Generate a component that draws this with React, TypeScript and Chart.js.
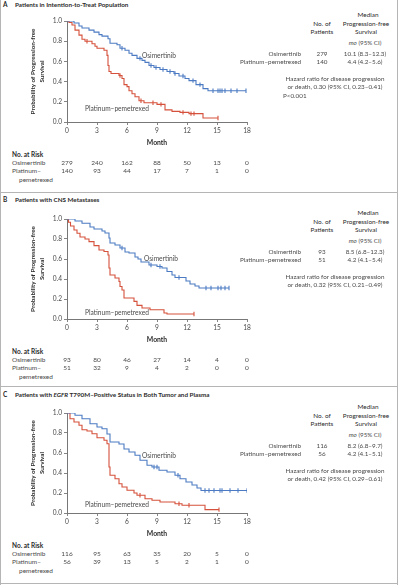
import React, { useEffect, useRef } from "react";
import { Chart, registerables } from "chart.js";
Chart.register(...registerables);

const FONT = "Lato, 'Open Sans', 'DejaVu Sans', sans-serif";
const BLUE = "#4c7bc3";
const RED = "#d6513b";
const TEXT = "#4a4a4a";
const DARK = "#2a2a2a";
const AXIS = "#777777";

const monthTicks = [0, 3, 6, 9, 12, 15, 18];

// ---------- Panel A: intention-to-treat ----------
const aOsiTime = [0, 0.7, 1.2, 1.5, 2.2, 2.7, 3.2, 3.5, 4.1, 4.3, 5.0, 5.3, 5.8, 6.2, 6.5, 7.0, 7.5, 7.8, 8.2, 8.7, 9.3, 10.0, 10.7, 11.2, 11.8, 12.2, 12.9, 13.6, 14.1, 17.9];
const aOsiSurv = [1, 0.98, 0.95, 0.93, 0.91, 0.89, 0.865, 0.85, 0.825, 0.78, 0.765, 0.73, 0.71, 0.68, 0.66, 0.63, 0.61, 0.59, 0.56, 0.54, 0.52, 0.5, 0.48, 0.455, 0.43, 0.41, 0.37, 0.33, 0.31, 0.31];
const aOsiCensTime = [5.5, 7.3, 8.4, 8.9, 9.6, 10.3, 10.8, 11.6, 12.6, 13.3, 14.6, 15.1, 15.3, 15.5, 15.8, 16.4, 17.0, 17.9];
const aOsiCensSurv = [0.73, 0.63, 0.56, 0.54, 0.52, 0.5, 0.48, 0.455, 0.41, 0.37, 0.31, 0.31, 0.31, 0.31, 0.31, 0.31, 0.31, 0.31];
const aPlatTime = [0, 0.2, 0.5, 0.8, 1.2, 1.5, 1.8, 2.5, 2.8, 3.0, 3.7, 4.0, 4.1, 4.2, 4.4, 5.2, 5.5, 5.7, 6.0, 6.2, 6.5, 6.8, 7.2, 7.7, 9.0, 9.8, 10.5, 11.3, 12.2, 13.6, 15.1];
const aPlatSurv = [1, 0.985, 0.96, 0.91, 0.86, 0.82, 0.8, 0.775, 0.75, 0.73, 0.71, 0.66, 0.56, 0.5, 0.48, 0.46, 0.43, 0.37, 0.35, 0.31, 0.28, 0.25, 0.21, 0.19, 0.175, 0.12, 0.105, 0.095, 0.083, 0.04, 0.04];
const aPlatCensTime = [2.0, 5.3, 7.4, 8.6, 9.4, 11.6, 12.4, 12.7, 15.1];
const aPlatCensSurv = [0.8, 0.46, 0.21, 0.19, 0.175, 0.095, 0.083, 0.083, 0.04];
const aOsiRisk = [279, 240, 162, 88, 50, 13, 0];
const aPlatRisk = [140, 93, 44, 17, 7, 1, 0];

// ---------- Panel B: CNS metastases ----------
const bOsiTime = [0, 0.8, 1.5, 2.3, 2.7, 3.5, 3.8, 4.2, 4.3, 4.8, 5.3, 5.8, 6.2, 6.8, 7.1, 7.4, 8.2, 9.0, 9.5, 10.0, 10.5, 10.8, 11.9, 12.3, 12.8, 13.2, 16.2];
const bOsiSurv = [1, 0.98, 0.957, 0.92, 0.9, 0.88, 0.86, 0.81, 0.76, 0.74, 0.71, 0.67, 0.66, 0.62, 0.6, 0.57, 0.54, 0.525, 0.51, 0.475, 0.44, 0.415, 0.38, 0.35, 0.33, 0.31, 0.31];
const bOsiCensTime = [5.5, 8.4, 9.3, 11.2, 13.9, 14.4, 15.1, 15.4, 15.8, 16.2];
const bOsiCensSurv = [0.71, 0.54, 0.525, 0.415, 0.31, 0.31, 0.31, 0.31, 0.31, 0.31];
const bPlatTime = [0, 0.15, 0.35, 0.7, 1.0, 1.3, 1.8, 2.2, 2.7, 3.2, 3.7, 4.1, 4.2, 4.3, 4.8, 5.2, 5.3, 5.5, 5.7, 6.7, 7.0, 7.5, 8.3, 9.7, 10.0, 12.7];
const bPlatSurv = [1, 0.967, 0.93, 0.89, 0.857, 0.82, 0.8, 0.774, 0.734, 0.69, 0.675, 0.64, 0.51, 0.44, 0.41, 0.375, 0.325, 0.29, 0.21, 0.176, 0.136, 0.11, 0.093, 0.06, 0.05, 0.05];
const bPlatCensTime = [12.7];
const bPlatCensSurv = [0.05];
const bOsiRisk = [93, 80, 46, 27, 14, 4, 0];
const bPlatRisk = [51, 32, 9, 4, 2, 0, 0];

// ---------- Panel C: T790M-positive in tumor and plasma ----------
const cOsiTime = [0, 0.8, 1.5, 2.3, 3.0, 3.5, 4.0, 4.3, 5.2, 5.7, 6.2, 6.8, 7.3, 8.0, 8.5, 9.2, 10.0, 10.8, 11.3, 11.9, 12.5, 13.0, 13.4, 18.0];
const cOsiSurv = [1, 0.977, 0.943, 0.893, 0.86, 0.843, 0.79, 0.71, 0.69, 0.64, 0.61, 0.577, 0.527, 0.477, 0.46, 0.427, 0.41, 0.377, 0.343, 0.31, 0.28, 0.25, 0.225, 0.225];
const cOsiCensTime = [8.7, 9.0, 11.1, 13.8, 14.2, 14.7, 15.3, 15.5, 16.3, 17.1, 18.0];
const cOsiCensSurv = [0.46, 0.46, 0.377, 0.225, 0.225, 0.225, 0.225, 0.225, 0.225, 0.225, 0.225];
const cPlatTime = [0, 0.3, 0.7, 1.2, 1.5, 2.0, 2.5, 3.0, 3.7, 4.0, 4.2, 4.3, 4.8, 5.2, 5.5, 6.0, 6.7, 7.0, 7.8, 8.5, 9.3, 10.8, 11.5, 13.8, 15.2];
const cPlatSurv = [1, 0.943, 0.91, 0.877, 0.833, 0.82, 0.793, 0.753, 0.727, 0.693, 0.46, 0.377, 0.343, 0.293, 0.26, 0.227, 0.2, 0.177, 0.143, 0.127, 0.11, 0.093, 0.077, 0.034, 0.034];
const cPlatCensTime = [7.3, 11.2, 12.2, 15.2];
const cPlatCensSurv = [0.177, 0.093, 0.077, 0.034];
const cOsiRisk = [116, 95, 63, 35, 20, 5, 0];
const cPlatRisk = [56, 39, 13, 5, 2, 1, 0];

const PLOT_LEFT = 67;
const PLOT_RIGHT = 247;
const CANVAS_W = 262;
const PAD_TOP = 12;
const AXIS_H = 28;

function pairs(t: number[], s: number[]) {
  return t.map((x, i) => ({ x, y: s[i] }));
}

type KMProps = {
  plotTop: number;
  plotBottom: number;
  osiT: number[]; osiS: number[]; platT: number[]; platS: number[];
  osiCT: number[]; osiCS: number[]; platCT: number[]; platCS: number[];
};

function KMChart(p: KMProps) {
  const ref = useRef<HTMLCanvasElement>(null);
  const h = p.plotBottom - p.plotTop + PAD_TOP + AXIS_H;
  useEffect(() => {
    const curve = (data: any, color: string) => ({
      data, borderColor: color, borderWidth: 1.1, stepped: "before" as const,
      pointRadius: 0, fill: false, tension: 0,
    });
    const cens = (data: any, color: string) => ({
      data, showLine: false, borderColor: color, backgroundColor: color,
      pointStyle: "line" as const, pointRotation: 90, pointRadius: 2.2,
      pointBorderColor: color, pointBorderWidth: 1.1,
    });
    const chart = new Chart(ref.current!, {
      type: "line",
      data: {
        datasets: [
          curve(pairs(p.osiT, p.osiS), BLUE),
          curve(pairs(p.platT, p.platS), RED),
          cens(pairs(p.osiCT, p.osiCS), BLUE),
          cens(pairs(p.platCT, p.platCS), RED),
        ] as any,
      },
      options: {
        animation: false,
        responsive: false,
        maintainAspectRatio: false,
        devicePixelRatio: 1,
        events: [],
        layout: { padding: { top: PAD_TOP, right: CANVAS_W - PLOT_RIGHT, left: 0, bottom: 0 } },
        plugins: { legend: { display: false }, tooltip: { enabled: false } },
        scales: {
          x: {
            type: "linear", min: 0, max: 18,
            afterBuildTicks: (s: any) => { s.ticks = monthTicks.map((v) => ({ value: v })); },
            afterFit: (s: any) => { s.height = AXIS_H; },
            grid: { drawOnChartArea: false, drawTicks: true, tickLength: 3, color: AXIS, lineWidth: 0.9 },
            border: { display: true, color: AXIS, width: 1 },
            ticks: { font: { family: FONT, size: 6.6 }, color: TEXT, padding: 1.5, maxRotation: 0 },
            title: { display: true, text: "Month", color: DARK, font: { family: FONT, size: 6.8, weight: "bold" }, padding: { top: 0, bottom: 3.6 } },
          },
          y: {
            type: "linear", min: 0, max: 1,
            ticks: { stepSize: 0.2, font: { family: FONT, size: 6.6 }, color: TEXT, padding: 2, callback: (v: any) => Number(v).toFixed(1) },
            afterFit: (s: any) => { s.width = PLOT_LEFT; },
            grid: { drawOnChartArea: false, drawTicks: true, tickLength: 3, color: AXIS, lineWidth: 0.9 },
            border: { display: true, color: AXIS, width: 1 },
            title: {
              display: true, text: ["Probability of Progression-free", "Survival"], color: DARK,
              font: { family: FONT, size: 6.3, weight: "bold", lineHeight: 1.4 }, padding: { top: 28.6, bottom: 0 },
            },
          },
        },
      } as any,
    });
    return () => chart.destroy();
  }, []);
  return (
    <canvas
      ref={ref}
      width={CANVAS_W}
      height={h}
      style={{ position: "absolute", left: 0, top: p.plotTop - PAD_TOP, width: CANVAS_W, height: h }}
    />
  );
}

type TProps = {
  x: number; y: number; children: React.ReactNode;
  align?: "left" | "center" | "right"; size?: number; weight?: number; color?: string; italic?: boolean;
};
function T({ x, y, children, align = "left", size = 6.5, weight = 400, color = TEXT, italic = false }: TProps) {
  const tx = align === "left" ? "0" : align === "center" ? "-50%" : "-100%";
  return (
    <div
      style={{
        position: "absolute", left: x, top: y, transform: `translate(${tx}, -50%)`,
        fontSize: size, fontWeight: weight, color, whiteSpace: "nowrap", lineHeight: 1,
        fontFamily: FONT, fontStyle: italic ? "italic" : "normal",
      }}
    >
      {children}
    </div>
  );
}

type PanelProps = KMProps & {
  letter: string; title: React.ReactNode; titleY: number;
  osiLabelX: number; osiLabelY: number; platLabelY: number;
  osiRisk: number[]; platRisk: number[];
  osiN: string; platN: string; osiMed: string; platMed: string;
  hr: string; pval?: string;
};

function Panel(p: PanelProps) {
  const t = p.plotTop;
  const b = p.plotBottom;
  const colX = (i: number) => PLOT_LEFT + ((PLOT_RIGHT - PLOT_LEFT) * monthTicks[i]) / 18;
  return (
    <>
      <KMChart {...p} />
      <T x={3} y={p.titleY} weight={700} color={DARK} size={6.5}>{p.letter}</T>
      <T x={15} y={p.titleY} weight={700} color={DARK} size={6.3}>{p.title}</T>
      <T x={p.osiLabelX} y={p.osiLabelY} size={6.6}>Osimertinib</T>
      <T x={85} y={p.platLabelY} size={6.6}>Platinum–pemetrexed</T>

      <T x={12} y={b + 33} weight={700} color={DARK} size={6.5}>No. at Risk</T>
      <T x={12} y={b + 41.3} size={6.5}>Osimertinib</T>
      <T x={12} y={b + 49} size={6.5}>Platinum–</T>
      <T x={19} y={b + 57.5} size={6.5}>pemetrexed</T>
      {p.osiRisk.map((v, i) => (
        <T key={"o" + i} x={colX(i)} y={b + 41.3} align="center" size={6.5}>{v}</T>
      ))}
      {p.platRisk.map((v, i) => (
        <T key={"p" + i} x={colX(i)} y={b + 49} align="center" size={6.5}>{v}</T>
      ))}

      <T x={368} y={t - 6} align="center" color={DARK} size={6.4}>Median</T>
      <T x={322} y={t + 2.8} align="center" color={DARK} size={6.4}>No. of</T>
      <T x={366} y={t + 2.8} align="center" color={DARK} size={6.4}>Progression-free</T>
      <T x={322} y={t + 11} align="center" color={DARK} size={6.4}>Patients</T>
      <T x={366} y={t + 11} align="center" color={DARK} size={6.4}>Survival</T>
      <T x={365} y={t + 22.2} align="center" size={6.2}><i>mo</i> (95% CI)</T>
      <T x={301} y={t + 32.8} align="right" size={6.3}>Osimertinib</T>
      <T x={301} y={t + 40.5} align="right" size={6.3}>Platinum–pemetrexed</T>
      <T x={322} y={t + 32.8} align="center" size={6.3}>{p.osiN}</T>
      <T x={322} y={t + 40.5} align="center" size={6.3}>{p.platN}</T>
      <T x={365} y={t + 32.8} align="center" size={6.3}>{p.osiMed}</T>
      <T x={365} y={t + 40.5} align="center" size={6.3}>{p.platMed}</T>
      <T x={335} y={t + 58.2} align="center" size={6.3}>Hazard ratio for disease progression</T>
      <T x={335} y={t + 66.2} align="center" size={6.3}>{p.hr}</T>
      {p.pval ? <T x={283} y={t + 74.5} size={6.3}>{p.pval}</T> : null}
    </>
  );
}

function Line({ x, y, w, h }: { x: number; y: number; w: number; h: number }) {
  return <div style={{ position: "absolute", left: x, top: y, width: w, height: h, background: "#b5b5b5" }} />;
}

export default function App() {
  return (
    <div
      style={{
        position: "absolute", left: 0, top: 0, width: 398, height: 585, background: "#ffffff",
        overflow: "hidden", fontFamily: FONT,
      }}
    >
      <Line x={0} y={0} w={1} h={585} />
      <Line x={397} y={0} w={1} h={585} />
      <Line x={0} y={192} w={398} h={1} />
      <Line x={0} y={386} w={398} h={1} />
      <Line x={0} y={583} w={398} h={1} />

      <Panel
        letter="A" title="Patients in Intention-to-Treat Population" titleY={5}
        plotTop={21} plotBottom={122}
        osiT={aOsiTime} osiS={aOsiSurv} platT={aPlatTime} platS={aPlatSurv}
        osiCT={aOsiCensTime} osiCS={aOsiCensSurv} platCT={aPlatCensTime} platCS={aPlatCensSurv}
        osiLabelX={142} osiLabelY={55} platLabelY={107.7}
        osiRisk={aOsiRisk} platRisk={aPlatRisk}
        osiN="279" platN="140" osiMed="10.1 (8.3–12.3)" platMed="4.4 (4.2–5.6)"
        hr="or death, 0.30 (95% CI, 0.23–0.41)" pval="P<0.001"
      />
      <Panel
        letter="B" title="Patients with CNS Metastases" titleY={200}
        plotTop={219} plotBottom={319}
        osiT={bOsiTime} osiS={bOsiSurv} platT={bPlatTime} platS={bPlatSurv}
        osiCT={bOsiCensTime} osiCS={bOsiCensSurv} platCT={bPlatCensTime} platCS={bPlatCensSurv}
        osiLabelX={144} osiLabelY={257.5} platLabelY={312.3}
        osiRisk={bOsiRisk} platRisk={bPlatRisk}
        osiN="93" platN="51" osiMed="8.5 (6.8–12.3)" platMed="4.2 (4.1–5.4)"
        hr="or death, 0.32 (95% CI, 0.21–0.49)"
      />
      <Panel
        letter="C"
        title={<>Patients with <i>EGFR</i> T790M–Positive Status in Both Tumor and Plasma</>}
        titleY={395}
        plotTop={413} plotBottom={513}
        osiT={cOsiTime} osiS={cOsiSurv} platT={cPlatTime} platS={cPlatSurv}
        osiCT={cOsiCensTime} osiCS={cOsiCensSurv} platCT={cPlatCensTime} platCS={cPlatCensSurv}
        osiLabelX={142} osiLabelY={455} platLabelY={504}
        osiRisk={cOsiRisk} platRisk={cPlatRisk}
        osiN="116" platN="56" osiMed="8.2 (6.8–9.7)" platMed="4.2 (4.1–5.1)"
        hr="or death, 0.42 (95% CI, 0.29–0.61)"
      />
    </div>
  );
}
